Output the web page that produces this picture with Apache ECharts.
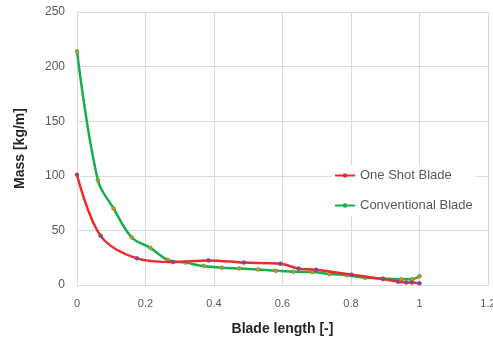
<!DOCTYPE html>
<html>
<head>
<meta charset="utf-8">
<script src="https://cdn.jsdelivr.net/npm/echarts@6/dist/echarts.min.js"></script>
<style>
  html, body { margin: 0; padding: 0; background: #fff; }
  #chart { width: 493px; height: 339px; }
</style>
</head>
<body>
<div id="chart"></div>
<script>
// blade length [-] and mass [kg/m]
const oneShotX = [0, 0.069, 0.175, 0.28, 0.384, 0.487, 0.594, 0.647, 0.698, 0.802, 0.893, 0.937, 0.961, 0.978, 1.0]
const oneShotY = [101, 45, 24.4, 21, 22.5, 20.5, 19.5, 15, 14, 9.5, 5.5, 3, 2.3, 2.3, 1.5]

const convX = [0, 0.061, 0.107, 0.16, 0.214, 0.265, 0.317, 0.37, 0.423, 0.474, 0.528, 0.58, 0.632, 0.686, 0.737, 0.789, 0.841, 0.893, 0.947, 0.978, 1.0]
const convY = [214, 96, 70, 43.5, 34, 23, 20.5, 17.3, 15.8, 15.2, 14.3, 13, 12.2, 12, 10, 9, 6.7, 6, 5.3, 5.3, 8]

const xTicks = [0, 0.2, 0.4, 0.6, 0.8, 1, 1.2]
const yTicks = [0, 50, 100, 150, 200, 250]

const zip = (xs, ys) => xs.map((x, i) => [x, ys[i]])

let myChart = echarts.init(document.getElementById('chart'))
myChart.setOption({
  animation: false,
  textStyle: { fontFamily: 'Liberation Sans' },
  grid: { left: 77, right: 5, top: 12, bottom: 54, outerBoundsMode: 'none' },
  legend: {
    orient: 'vertical',
    left: 332,
    top: 165,
    itemGap: 17,
    itemWidth: 20,
    itemHeight: 3,
    backgroundColor: '#fff',
    padding: [4, 4, 4, 2],
    textStyle: { color: '#595959', fontSize: 13, fontFamily: 'Liberation Sans' },
    data: ['One Shot Blade', 'Conventional Blade'],
  },
  xAxis: {
    type: 'value',
    min: xTicks[0],
    max: xTicks[xTicks.length - 1],
    interval: 0.2,
    name: 'Blade length [-]',
    nameLocation: 'middle',
    nameGap: 37,
    nameTextStyle: { fontWeight: 'bold', fontSize: 14, color: '#262626' },
    axisLine: { show: true, lineStyle: { color: '#d9d9d9' } },
    axisTick: { show: false },
    axisLabel: {
      color: '#595959', fontSize: 11, margin: 13,
      formatter: (v) => String(Math.round(v * 10) / 10),
    },
    splitLine: { show: true, lineStyle: { color: '#d9d9d9' } },
  },
  yAxis: {
    type: 'value',
    min: yTicks[0],
    max: yTicks[yTicks.length - 1],
    interval: 50,
    name: 'Mass [kg/m]',
    nameLocation: 'middle',
    nameGap: 50,
    nameTextStyle: { fontWeight: 'bold', fontSize: 14, color: '#262626' },
    axisLine: { show: true, lineStyle: { color: '#d9d9d9' } },
    axisTick: { show: false },
    axisLabel: { color: '#595959', fontSize: 12, margin: 12 },
    splitLine: { show: true, lineStyle: { color: '#d9d9d9' } },
  },
  series: [
    {
      name: 'One Shot Blade',
      type: 'line',
      smooth: 0.35,
      data: zip(oneShotX, oneShotY),
      symbol: 'circle',
      symbolSize: 4,
      lineStyle: { color: '#ee2a2a', width: 2.5 },
      itemStyle: { color: '#5a54b8', borderColor: '#ee2a2a', borderWidth: 0.5 },
      z: 3,
    },
    {
      name: 'Conventional Blade',
      type: 'line',
      smooth: 0.35,
      data: zip(convX, convY),
      symbol: 'circle',
      symbolSize: 4,
      lineStyle: { color: '#14b04a', width: 2.5 },
      itemStyle: { color: '#e2861e', borderColor: '#14b04a', borderWidth: 0.5 },
      z: 2,
    },
  ],
})
</script>
</body>
</html>
